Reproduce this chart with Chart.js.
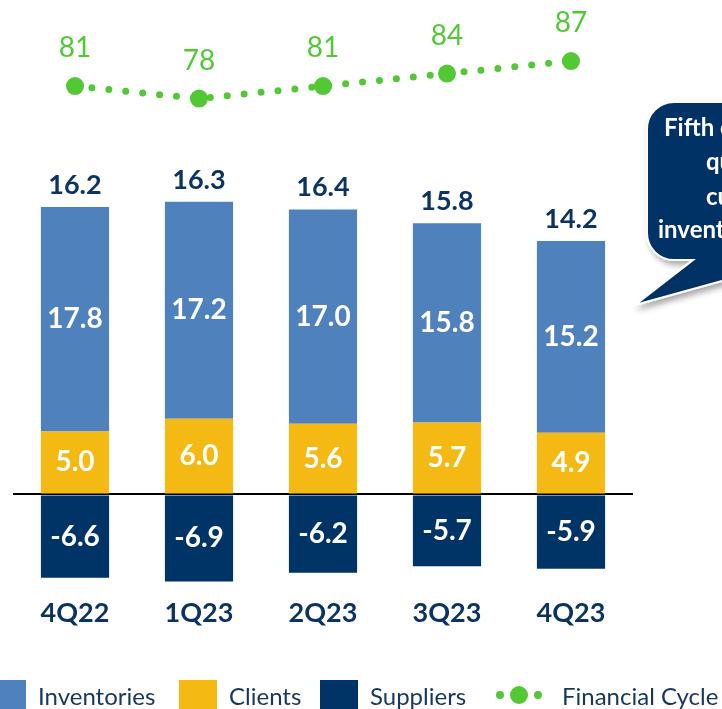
<!DOCTYPE html>
<html>
<head>
<meta charset="utf-8">
<script src="https://cdn.jsdelivr.net/npm/chart.js@4.4.1/dist/chart.umd.min.js"></script>
<style>
  body { margin: 0; background: #fff; }
  #wrap { position: relative; width: 722px; height: 709px; overflow: hidden; font-family: Lato, sans-serif; }
  #box { position: absolute; left: 0; top: 0; width: 722px; height: 646px; }
  #bubble { position: absolute; left: 0; top: 0; width: 722px; height: 709px; pointer-events: none; }
  .note { position: absolute; color: #fff; font: bold 24px Lato, sans-serif; white-space: nowrap; line-height: 34px; }
  .item { position: absolute; top: 680px; height: 30px; display: flex; align-items: center; color: #17375e; font-size: 24px; white-space: nowrap; }
  .sw { width: 38px; height: 30px; margin-right: 12px; }
  .dots { display: flex; align-items: center; margin-right: 20px; }
  .dots span { border-radius: 50%; display: inline-block; }
</style>
</head>
<body>
<div id="wrap">
  <div id="box"><canvas id="cycleChart"></canvas></div>
  <svg id="bubble" width="722" height="709">
    <defs>
      <filter id="sh" x="-20%" y="-20%" width="140%" height="160%">
        <feDropShadow dx="3" dy="4" stdDeviation="3" flood-color="#000" flood-opacity="0.35"/>
      </filter>
    </defs>
    <path d="M674,102 H900 V260 H798 L635,305 L693,260 H674 A27,27 0 0 1 647,233 V129 A27,27 0 0 1 674,102 Z"
          fill="#003366" stroke="#fff" stroke-width="2" filter="url(#sh)"/>
  </svg>
  <div class="note" style="left:664px;top:110px">Fifth consecutive</div>
  <div class="note" style="left:706px;top:144px">quarter of</div>
  <div class="note" style="left:706px;top:179px">cuts in</div>
  <div class="note" style="left:658px;top:212px">inventories</div>
  <div id="legend"></div>
</div>

<script>
const quarters = ['4Q22', '1Q23', '2Q23', '3Q23', '4Q23'];
const inventories = [17.8, 17.2, 17.0, 15.8, 15.2];
const clients = [5.0, 6.0, 5.6, 5.7, 4.9];
const suppliers = [-6.6, -6.9, -6.2, -5.7, -5.9];
const financialCycle = [81, 78, 81, 84, 87];

const navy = '#0b3463';
const green = '#52c934';

// white numbers inside the bars, totals on top, green cycle values
const labelPlugin = {
  id: 'valueLabels',
  afterDatasetsDraw(chart) {
    const ctx = chart.ctx;
    ctx.save();
    ctx.textAlign = 'center';
    ctx.textBaseline = 'middle';
    chart.data.datasets.forEach((ds, i) => {
      const meta = chart.getDatasetMeta(i);
      meta.data.forEach((el, j) => {
        if (ds.type === 'line') {
          ctx.font = '28px Lato';
          ctx.fillStyle = green;
          ctx.fillText(ds.data[j], el.x, el.y - 38);
        } else {
          ctx.font = 'bold 28px Lato';
          ctx.fillStyle = '#fff';
          ctx.fillText(ds.data[j].toFixed(1), el.x, (el.y + el.base) / 2);
        }
      });
    });
    const top = chart.getDatasetMeta(0);
    ctx.font = 'bold 27px Lato';
    ctx.fillStyle = navy;
    top.data.forEach((el, j) => {
      const total = inventories[j] + clients[j] + suppliers[j];
      ctx.fillText(total.toFixed(1), el.x, el.y - 22);
    });
    ctx.restore();
  }
};

document.fonts.load('bold 26px Lato').then(() => {
  const ctx = document.getElementById('cycleChart').getContext('2d');

  const chart = new Chart(ctx, {
    data: {
      labels: quarters,
      datasets: [
        {
          type: 'bar',
          label: 'Inventories',
          data: inventories,
          backgroundColor: '#4f81bd',
          stack: 'nwc',
          order: 2
        },
        {
          type: 'bar',
          label: 'Clients',
          data: clients,
          backgroundColor: '#f5b914',
          stack: 'nwc',
          order: 1
        },
        {
          type: 'bar',
          label: 'Suppliers',
          data: suppliers,
          backgroundColor: '#003366',
          stack: 'nwc',
          order: 3
        },
        {
          type: 'line',
          label: 'Financial Cycle',
          data: financialCycle,
          yAxisID: 'y2',
          borderColor: green,
          backgroundColor: green,
          borderWidth: 7,
          borderDash: [0, 17],
          borderCapStyle: 'round',
          pointRadius: 9,
          pointBorderWidth: 0,
          tension: 0,
          order: 0
        }
      ]
    },
    options: {
      responsive: true,
      maintainAspectRatio: false,
      animation: false,
      datasets: {
        bar: { categoryPercentage: 1, barPercentage: 0.55 }
      },
      layout: { padding: { left: 13, right: 89, top: 0, bottom: 11 } },
      scales: {
        x: {
          stacked: true,
          grid: { display: false },
          border: { display: false },
          ticks: { color: navy, font: { family: 'Lato', size: 27, weight: 'bold' }, padding: 6 }
        },
        y: {
          stacked: true,
          min: -6.99,
          max: 38.49,
          afterBuildTicks: s => { s.ticks = [{ value: 0 }]; },
          ticks: { display: false },
          border: { display: false },
          grid: {
            drawTicks: false,
            color: c => c.tick.value === 0 ? '#000' : 'transparent',
            lineWidth: 2
          }
        },
        y2: {
          display: false,
          min: -37.94,
          max: 99.47
        }
      },
      plugins: {
        legend: { display: false },
        tooltip: { enabled: false }
      }
    },
    plugins: [labelPlugin]
  });

  // legend built from the chart's datasets
  const lefts = [-12, 179, 320, 496];
  const legendEl = document.getElementById('legend');
  chart.data.datasets.forEach((ds, i) => {
    const item = document.createElement('div');
    item.className = 'item';
    item.style.left = lefts[i] + 'px';
    if (ds.type === 'line') {
      item.innerHTML = '<div class="dots">' +
        '<span style="width:8px;height:8px;background:' + green + '"></span>' +
        '<span style="width:18px;height:18px;margin:0 6px;background:' + green + '"></span>' +
        '<span style="width:8px;height:8px;background:' + green + '"></span></div>' + ds.label;
    } else {
      item.innerHTML = '<div class="sw" style="background:' + ds.backgroundColor + '"></div>' + ds.label;
    }
    legendEl.appendChild(item);
  });
});
</script>
</body>
</html>
